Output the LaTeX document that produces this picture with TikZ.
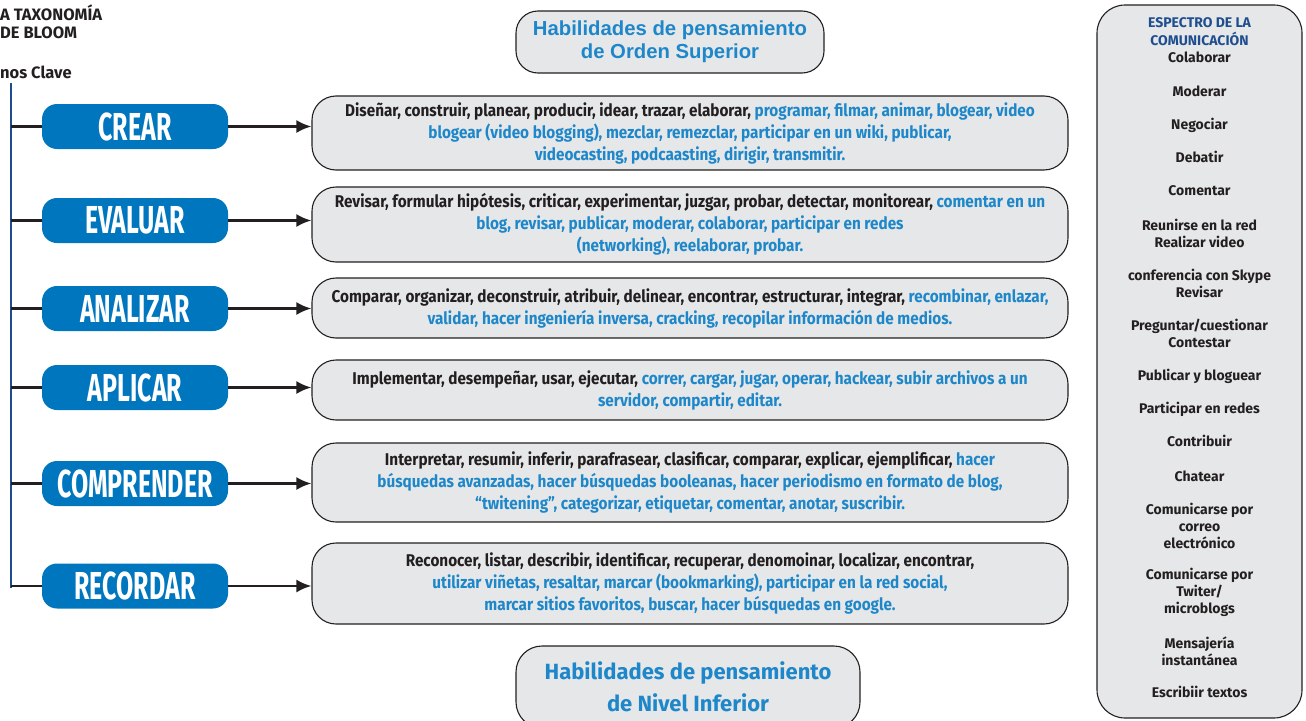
\documentclass[tikz,border=0pt]{standalone}
\usepackage{fontspec}
\setmainfont{Fira Sans}
\newfontfamily\condf{Fira Sans}[FakeStretch=0.9]
\newfontfamily\pillf{Fira Sans}[FakeStretch=0.64]
\newfontfamily\semif{Fira Sans}
\newfontfamily\arialf{Liberation Sans}
\usetikzlibrary{arrows.meta}
\definecolor{pillblue}{HTML}{0076BE}
\definecolor{txtblue}{HTML}{1D87CA}
\definecolor{dark}{HTML}{231F20}
\definecolor{boxgray}{HTML}{E6E7E8}
\definecolor{spine}{HTML}{1E4C8F}
\definecolor{titleblue}{HTML}{1F4E8F}
\newcommand{\bl}[1]{\textcolor{txtblue}{#1}}
\tikzset{
  pill/.style={rectangle, rounded corners=15pt, fill=pillblue, text=white,
    minimum width=186pt, minimum height=45pt, inner sep=0pt,
    font={\pillf\bfseries\fontsize{39}{39}\selectfont}},
  verbbox/.style={rectangle, rounded corners=24pt, fill=boxgray, draw=dark, line width=1.1pt,
    minimum width=756pt, inner sep=0pt, align=center, text=dark,
    font={\condf\bfseries\fontsize{17}{22}\selectfont}},
  levelbox/.style={rectangle, rounded corners=24pt, fill=boxgray, draw=dark, line width=1.1pt,
    inner sep=0pt, align=center, text=txtblue},
  conn/.style={draw=dark, line width=2.5pt},
  arr/.style={draw=dark, line width=2.5pt, -{Latex[length=15pt,width=13pt]}},
  spec/.style={text=dark, font={\semif\bfseries\fontsize{14}{17}\selectfont}, inner sep=0pt, align=center},
  corner/.style={text=dark, font={\semif\bfseries\fontsize{16.5}{15}\selectfont}, inner sep=0pt, anchor=west}
}
\begin{document}
\begin{tikzpicture}[x=1pt,y=-1pt]
\useasboundingbox (0,0) rectangle (1306,720);
% corner title
\node[corner] (t1) at (0,13) {A TAXONOMÍA};
\node[corner] (t2) at (0,33) {DE BLOOM};
\node[corner] (t3) at (0,72) {nos Clave};
% spine
\coordinate (sTop) at (11,83);
\coordinate (sBot) at (11,588);
\draw[spine, line width=2.5pt] (sTop) -- (sBot);
% pills
\node[pill] (p1) at (135,126.5) {CREAR};
\node[pill] (p2) at (135,220.5) {EVALUAR};
\node[pill] (p3) at (135,308.5) {ANALIZAR};
\node[pill] (p4) at (135,387.5) {APLICAR};
\node[pill] (p5) at (135,483.5) {COMPRENDER};
\node[pill] (p6) at (135,586) {RECORDAR};
\foreach \i/\y in {1/126.5,2/220.5,3/308.5,4/387.5,5/483.5,6/586}{
  \coordinate (s\i) at (11,\y);
  \draw[conn] (s\i) -- (p\i.west);
}
% verb boxes
\node[verbbox, minimum height=74pt] (b1) at (690,133) {Diseñar, construir, planear, producir, idear, trazar, elaborar, \bl{programar, filmar, animar, blogear, video}\\ \bl{blogear (video blogging), mezclar, remezclar, participar en un wiki, publicar,}\\ \bl{videocasting, podcaasting, dirigir, transmitir.}};
\node[verbbox, minimum height=75pt] (b2) at (690,224.5) {Revisar, formular hipótesis, criticar, experimentar, juzgar, probar, detectar, monitorear, \bl{comentar en un}\\ \bl{blog, revisar, publicar, moderar, colaborar, participar en redes}\\ \bl{(networking), reelaborar, probar.}};
\node[verbbox, minimum height=60pt] (b3) at (690,308) {Comparar, organizar, deconstruir, atribuir, delinear, encontrar, estructurar, integrar, \bl{recombinar, enlazar,}\\ \bl{validar, hacer ingeniería inversa, cracking, recopilar información de medios.}};
\node[verbbox, minimum height=60pt] (b4) at (690,390) {Implementar, desempeñar, usar, ejecutar, \bl{correr, cargar, jugar, operar, hackear, subir archivos a un}\\ \bl{servidor, compartir, editar.}};
\node[verbbox, minimum height=79pt] (b5) at (690,482.5) {Interpretar, resumir, inferir, parafrasear, clasificar, comparar, explicar, ejemplificar, \bl{hacer}\\ \bl{búsquedas avanzadas, hacer búsquedas booleanas, hacer periodismo en formato de blog,}\\ \bl{“twitening”, categorizar, etiquetar, comentar, anotar, suscribir.}};
\node[verbbox, minimum height=81pt] (b6) at (690,583.5) {Reconocer, listar, describir, identificar, recuperar, denomoinar, localizar, encontrar,\\ \bl{utilizar viñetas, resaltar, marcar (bookmarking), participar en la red social,}\\ \bl{marcar sitios favoritos, buscar, hacer búsquedas en google.}};
\foreach \i in {1,...,6}{\draw[arr] (p\i.east) -- (p\i.east -| b\i.west);}
% level boxes
\node[levelbox, minimum width=308pt, minimum height=62pt, rounded corners=22pt,
  font={\arialf\bfseries\fontsize{20.3}{23}\selectfont}] (hi) at (670,42) {Habilidades de pensamiento\\ de Orden Superior};
\node[levelbox, minimum width=344pt, minimum height=82pt, rounded corners=26pt,
  font={\semif\bfseries\fontsize{22}{32}\selectfont}] (lo) at (688,687) {Habilidades de pensamiento\\ de Nivel Inferior};
% communication spectrum
\node[rectangle, rounded corners=28pt, fill=boxgray, draw=dark, line width=1.1pt,
  minimum width=205pt, minimum height=713pt] (cs) at (1199.5,361.5) {};
\node[spec, text=titleblue, font={\semif\bfseries\fontsize{14}{18}\selectfont}] (c0) at (1199.5,32) {ESPECTRO DE LA\\ COMUNICACIÓN};
\node[spec] (c1) at (1199.5,57) {Colaborar};
\node[spec] (c2) at (1199.5,91) {Moderar};
\node[spec] (c3) at (1199.5,125) {Negociar};
\node[spec] (c4) at (1199.5,157) {Debatir};
\node[spec] (c5) at (1199.5,191) {Comentar};
\node[spec] (c6) at (1199.5,233.5) {Reunirse en la red\\ Realizar video};
\node[spec] (c7) at (1199.5,283.5) {conferencia con Skype\\ Revisar};
\node[spec] (c8) at (1199.5,333) {Preguntar/cuestionar\\ Contestar};
\node[spec] (c9) at (1199.5,376) {Publicar y bloguear};
\node[spec] (c10) at (1199.5,409) {Participar en redes};
\node[spec] (c11) at (1199.5,441) {Contribuir};
\node[spec] (c12) at (1199.5,476) {Chatear};
\node[spec] (c13) at (1199.5,526) {Comunicarse por\\ correo\\ electrónico};
\node[spec] (c14) at (1199.5,592.5) {Comunicarse por\\ Twiter/\\ microblogs};
\node[spec] (c15) at (1199.5,651.5) {Mensajería\\ instantánea};
\node[spec] (c16) at (1199.5,692) {Escribiir textos};
\end{tikzpicture}
\end{document}
